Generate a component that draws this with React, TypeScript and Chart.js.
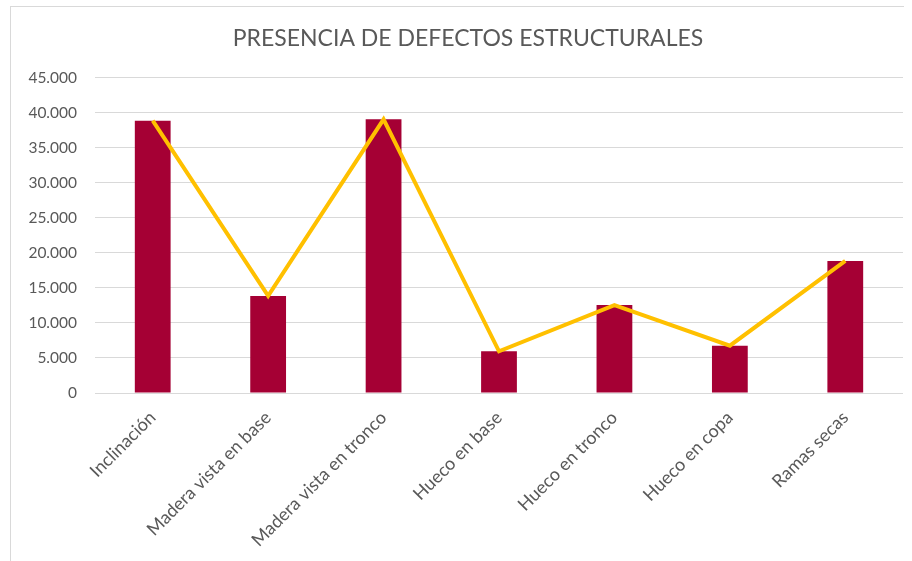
import React, { useEffect, useRef } from "react";
import { Chart, registerables } from "chart.js";

Chart.register(...registerables);

const categories = [
  "Inclinación",
  "Madera vista en base",
  "Madera vista en tronco",
  "Hueco en base",
  "Hueco en tronco",
  "Hueco en copa",
  "Ramas secas",
];
const barValues = [38850, 13850, 39050, 5950, 12550, 6750, 18850];
const lineValues = [38850, 13850, 39050, 5950, 12550, 6750, 18850];
const titleText = "PRESENCIA DE DEFECTOS ESTRUCTURALES";
const yMax = 45000;
const yStep = 5000;

const fmt = (v: number) => String(Math.round(v)).replace(/\B(?=(\d{3})+(?!\d))/g, ".");

export default function App() {
  const ref = useRef<HTMLCanvasElement | null>(null);
  useEffect(() => {
    if (!ref.current) return;
    const textColor = "#595959";
    const chart = new Chart(ref.current, {
      type: "bar",
      data: {
        labels: categories,
        datasets: [
          {
            type: "line",
            data: lineValues,
            borderColor: "#ffc000",
            borderWidth: 4,
            pointRadius: 0,
            tension: 0,
            order: 0,
          } as any,
          {
            type: "bar",
            data: barValues,
            backgroundColor: "#a50034",
            categoryPercentage: 1,
            barPercentage: 0.31,
            order: 1,
          },
        ],
      },
      options: {
        responsive: false,
        animation: false,
        devicePixelRatio: 1,
        layout: { padding: { left: 33, right: 9, top: 0, bottom: 0 } },
        plugins: {
          legend: { display: false },
          tooltip: { enabled: false },
          title: {
            display: true,
            text: titleText,
            color: textColor,
            font: { family: "Lato", size: 23, weight: "normal" },
            padding: { top: 25, bottom: 25 },
          },
        },
        scales: {
          x: {
            grid: { display: false },
            border: { display: false },
            ticks: {
              color: textColor,
              font: { family: "Lato", size: 18 },
              minRotation: 45,
              maxRotation: 45,
              autoSkip: false,
              padding: 6,
            },
            afterFit: (s: any) => {
              s.height = 168;
            },
          },
          y: {
            min: 0,
            max: yMax,
            grid: { color: "#d9d9d9", lineWidth: 1, drawTicks: false },
            border: { display: false },
            ticks: {
              stepSize: yStep,
              color: textColor,
              font: { family: "Lato", size: 15.5 },
              padding: 18,
              callback: (v: any) => fmt(Number(v)),
            },
            afterFit: (s: any) => {
              s.width = 62;
              s._computeLabelArea = () => undefined;
            },
          },
        },
      },
    });
    return () => chart.destroy();
  }, []);
  return (
    <div style={{ position: "fixed", left: 0, top: 0, width: 912, height: 561, background: "#fff", overflow: "hidden" }}>
      <div
        style={{
          position: "absolute",
          left: 10,
          top: 6,
          width: 893,
          height: 560,
          borderTop: "1px solid #d9d9d9",
          borderLeft: "1px solid #d9d9d9",
        }}
      />
      <canvas ref={ref} width={912} height={561} style={{ position: "absolute", left: 0, top: 0 }} />
    </div>
  );
}
